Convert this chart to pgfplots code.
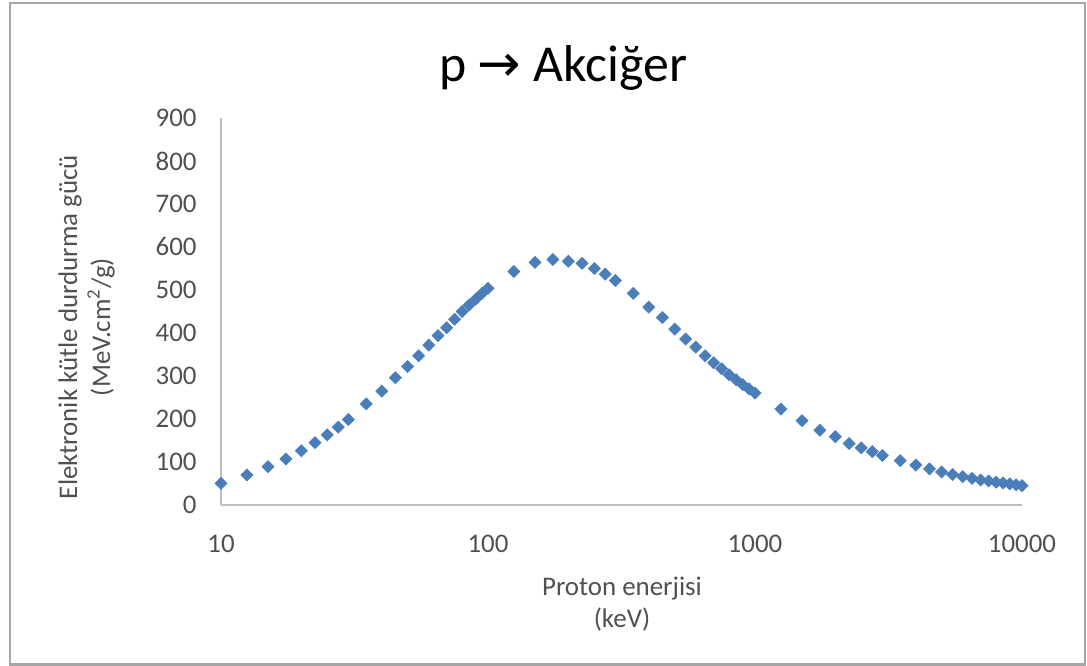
\documentclass[border=0pt]{standalone}
\usepackage{fontspec}
\setmainfont{Carlito}
\newfontfamily\symfont{DejaVu Sans}
\usepackage{pgfplots}
\pgfplotsset{compat=1.18}
\definecolor{markblue}{HTML}{4A7EBB}
\definecolor{labelgray}{HTML}{505050}
\definecolor{axisgray}{HTML}{BFBFBF}
\definecolor{framegray}{HTML}{A6A6A6}

% proton energy (keV) vs electronic mass stopping power (MeV cm2/g), lung
\pgfplotstableread{
E S
10 50.5
12.5 70
15 89
17.5 107
20 126
22.5 145
25 163
27.5 181
30 199
35 235
40 265
45 296
50 322
55 347
60 372
65 394
70 412
75 432
80 450
85 465
90 479
95 492
100 504
125 543
150 564
175 571
200 567
225 562
250 550
275 537
300 522
350 492
400 460
450 436
500 409
550 386
600 367
650 347
700 331
750 317
800 303
850 291
900 280
950 270
1000 260
1250 223
1500 196
1750 174
2000 159
2250 143
2500 133
2750 124
3000 115
3500 103
4000 93
4500 84
5000 77
5500 71
6000 66
6500 62
7000 58
7500 56
8000 53
8500 51
9000 49
9500 47
10000 45
}\lungdata

\begin{document}
\begin{tikzpicture}
\path[use as bounding box] (0,0) rectangle (543.5bp,333bp);
\draw[framegray, line width=1.2bp] (5bp,0.8bp) rectangle (542.5bp,331.5bp);
\begin{axis}[
  at={(110.5bp,80.5bp)}, anchor=south west,
  scale only axis, width=400.5bp, height=193.5bp,
  xmode=log, log basis x=10,
  xmin=10, xmax=10000, ymin=0, ymax=900,
  xtick={10,100,1000,10000},
  xticklabels={10,100,1000,10000},
  ytick={0,100,...,900},
  axis lines=left,
  axis line style={axisgray, line width=1bp, -},
  major tick length=0pt,
  tick label style={font=\fontsize{13.5}{15}\selectfont, text=labelgray},
  yticklabel style={anchor=east, inner sep=0pt, xshift=-12bp},
  xticklabel style={anchor=base, inner sep=0pt, yshift=-24bp},
  /pgf/number format/assume math mode=true,
  clip=false,
]
\addplot[only marks, mark=square*, mark size=2.1bp,
  mark options={rotate=45, fill=markblue, draw=markblue}]
  table[x=E, y=S] {\lungdata};
\end{axis}

% chart title
\node[anchor=base] at (281.5bp,292bp)
  {\fontsize{26}{30}\selectfont p {\symfont →} Akciğer};

% axis titles
\begin{scope}[labelgray, font=\fontsize{13.5}{16}\selectfont]
\node[anchor=base] at (311bp,35.5bp) {Proton enerjisi};
\node[anchor=base] at (311bp,19.5bp) {(keV)};
\node[rotate=90, anchor=base] at (38.5bp,169.5bp) {Elektronik kütle durdurma gücü};
\node[rotate=90, anchor=base] at (55bp,169.5bp) {(MeV.cm\textsuperscript{2}/g)};
\end{scope}
\end{tikzpicture}
\end{document}
